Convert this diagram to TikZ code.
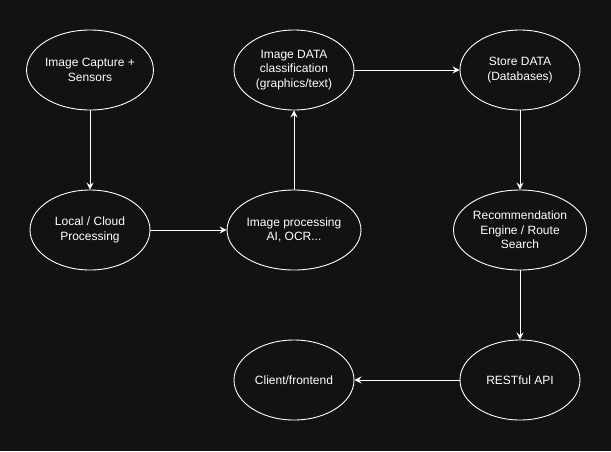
\documentclass[tikz,border=0pt]{standalone}
\usepackage{fontspec}
\setmainfont{Liberation Sans}
\usetikzlibrary{shapes.geometric,arrows.meta}
\definecolor{bg}{HTML}{121212}
\begin{document}
\begin{tikzpicture}[x=1pt,y=-1pt,
  ell/.style={ellipse,draw=white,fill=bg,line width=0.9pt,minimum width=120pt,minimum height=80pt,inner sep=0pt,align=center,text=white,font=\fontsize{12}{14.5}\selectfont},
  conn/.style={draw=white,line width=0.9pt,-{Stealth[length=7pt,width=7pt,inset=2.5pt]}}]
\fill[bg] (0,0) rectangle (611,451);
\useasboundingbox (0,0) rectangle (611,451);
\node[ell] (a) at (90,70) {Image Capture +\\Sensors};
\node[ell] (b) at (90,230) {Local / Cloud\\Processing};
\node[ell] (c) at (294,230) {Image processing\\AI, OCR...};
\node[ell] (d) at (294,70) {Image DATA\\classification\\(graphics/text)};
\node[ell] (e) at (520,70) {Store DATA\\(Databases)};
\node[ell] (f) at (520,230) {Recommendation\\Engine / Route\\Search};
\node[ell] (g) at (520,380) {RESTful API};
\node[ell] (h) at (294,380) {Client/frontend};
\draw[conn] (a) -- (b);
\draw[conn] (b) -- (c);
\draw[conn] (c) -- (d);
\draw[conn] (d) -- (e);
\draw[conn] (e) -- (f);
\draw[conn] (f) -- (g);
\draw[conn] (g) -- (h);
\end{tikzpicture}
\end{document}
